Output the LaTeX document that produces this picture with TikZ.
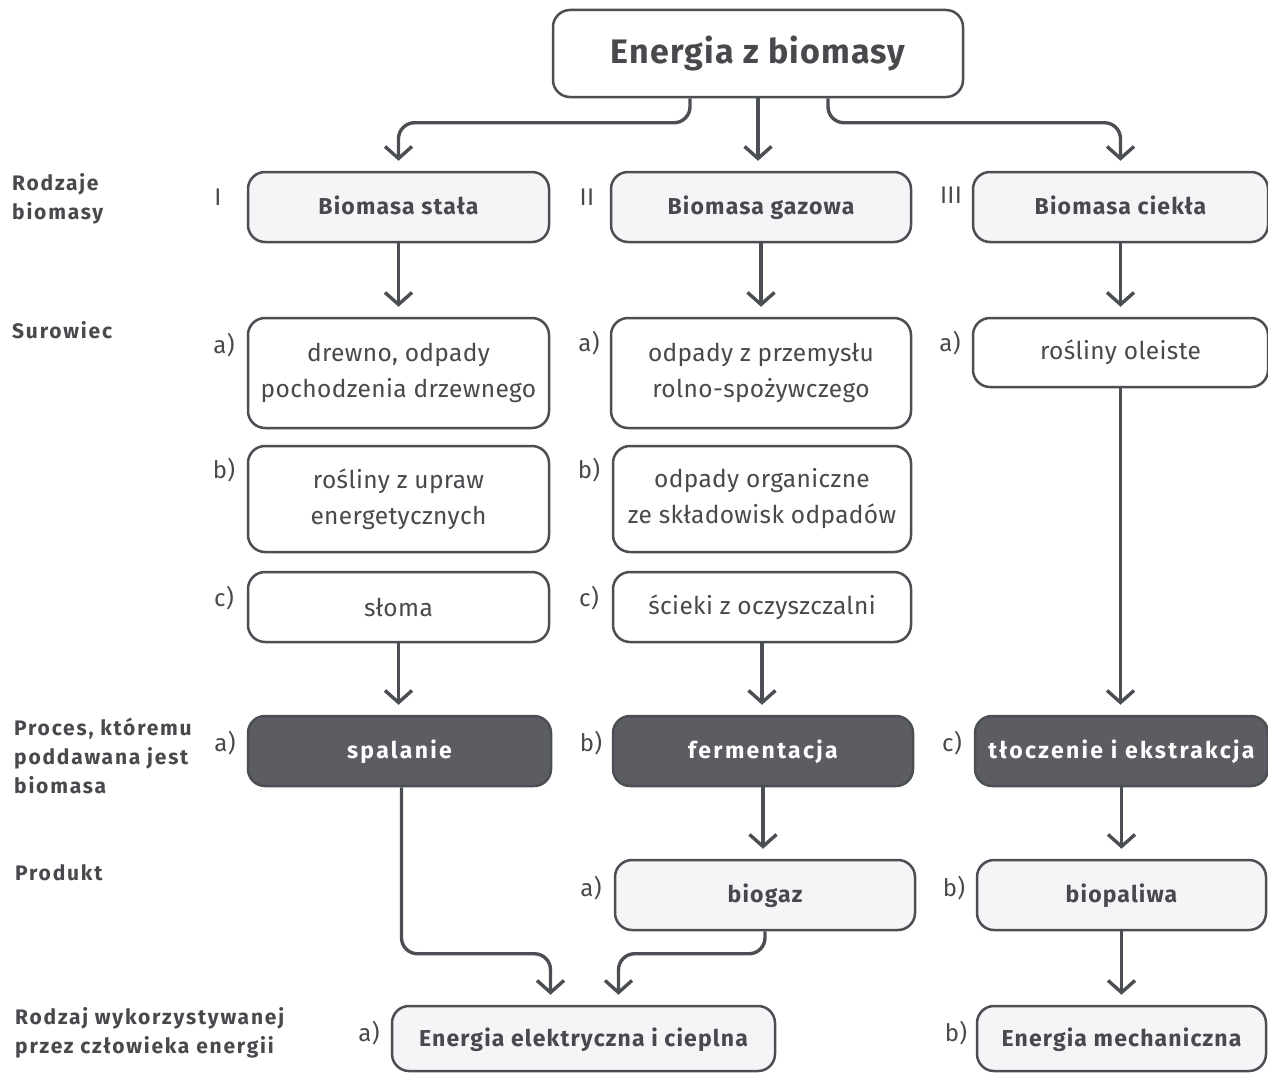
\documentclass[tikz,border=0pt]{standalone}
\usepackage{fontspec}
\setmainfont[LetterSpace=1.5]{Fira Sans}
\newfontfamily\headfont[LetterSpace=5]{Fira Sans}
\newfontfamily\labfont[LetterSpace=8.5]{Fira Sans}
\newfontfamily\procfont[LetterSpace=10]{Fira Sans}
\newfontfamily\titlefont[LetterSpace=3.5]{Fira Sans}
\usetikzlibrary{arrows.meta}
\definecolor{ink}{HTML}{4B4E53}
\definecolor{txt}{HTML}{48484D}
\definecolor{dark}{HTML}{5B5D62}
\definecolor{pale}{HTML}{F6F4F6}
\begin{document}
\begin{tikzpicture}[x=1pt,y=-1pt,
  box/.style={draw=ink, line width=2.5pt, rounded corners=17pt, fill=white,
    text=txt, align=center, inner sep=0pt,
    font=\fontsize{24.5}{36}\selectfont},
  head/.style={box, fill=pale, text height=19pt, text depth=4pt,
    font=\headfont\bfseries\fontsize{23}{26}\selectfont},
  proc/.style={box, fill=dark, text=white, text height=19pt, text depth=4pt,
    font=\procfont\bfseries\fontsize{23}{26}\selectfont},
  arr/.style={draw=ink, line width=3.4pt, shorten >=10pt,
    -{Straight Barb[length=12pt,width=27pt]}},
  link/.style={arr, rounded corners=16pt},
  lab/.style={text=txt, anchor=west, align=left, inner sep=0pt,
    font=\labfont\bfseries\fontsize{21}{29}\selectfont},
  tag/.style={text=txt, inner sep=0pt, font=\fontsize{24}{24}\selectfont}]
\useasboundingbox (0,0) rectangle (1268,1073);

% title
\node[box, minimum width=410pt, minimum height=87pt,
  font=\titlefont\bfseries\fontsize{34}{36}\selectfont] (top) at (758,53.5) {Energia z biomasy};

% kinds of biomass
\node[head, minimum width=301pt, minimum height=70pt] (t1) at (398.5,207) {Biomasa stała};
\node[head, minimum width=300pt, minimum height=70pt] (t2) at (761,207) {Biomasa gazowa};
\node[head, minimum width=295pt, minimum height=70pt] (t3) at (1120.5,207) {Biomasa ciekła};

% raw materials
\node[box, minimum width=301pt, minimum height=110pt] (s1a) at (398.5,373) {drewno, odpady\\pochodzenia drzewnego};
\node[box, minimum width=301pt, minimum height=106pt] (s1b) at (398.5,499) {rośliny z upraw\\energetycznych};
\node[box, minimum width=301pt, minimum height=70pt] (s1c) at (398.5,607) {słoma};
\node[box, minimum width=300pt, minimum height=110pt] (s2a) at (761,373) {odpady z przemysłu\\rolno-spożywczego};
\node[box, minimum width=298pt, minimum height=106pt] (s2b) at (762,499) {odpady organiczne\\ze składowisk odpadów};
\node[box, minimum width=298pt, minimum height=70pt] (s2c) at (762,607) {ścieki z oczyszczalni};
\node[box, minimum width=295pt, minimum height=69pt] (s3a) at (1120.5,352.5) {rośliny oleiste};

% processes
\node[proc, minimum width=303pt, minimum height=70pt] (p1) at (399.5,751) {spalanie};
\node[proc, minimum width=300pt, minimum height=70pt] (p2) at (763,751) {fermentacja};
\node[proc, minimum width=293pt, minimum height=70pt] (p3) at (1121.5,751) {tłoczenie i ekstrakcja};

% products
\node[head, minimum width=300pt, minimum height=70pt] (pr2) at (765,895) {biogaz};
\node[head, minimum width=289pt, minimum height=70pt] (pr3) at (1121.5,895) {biopaliwa};

% kinds of energy
\node[head, minimum width=383pt, minimum height=65pt] (e1) at (583.5,1038.5) {Energia elektryczna i cieplna};
\node[head, minimum width=289pt, minimum height=65pt] (e2) at (1121.5,1038.5) {Energia mechaniczna};

% row captions
\node[lab] (l1) at (12,199) {Rodzaje\\biomasy};
\node[lab] (l2) at (12,330) {Surowiec};
\node[lab] (l3) at (14,756) {Proces, któremu\\poddawana jest\\biomasa};
\node[lab] (l4) at (15,873) {Produkt};
\node[lab] (l5) at (15,1033) {Rodzaj wykorzystywanej\\przez człowieka energii};

% numerals and letters
\node[tag] (n1) at (218,197) {I};
\node[tag] (n2) at (587,197) {II};
\node[tag] (n3) at (951,195) {III};
\node[tag] (a1) at (224,345) {a)};
\node[tag] (b1) at (224,470) {b)};
\node[tag] (c1) at (224,598) {c)};
\node[tag] (d1) at (225,743) {a)};
\node[tag] (a2) at (589,343) {a)};
\node[tag] (b2) at (589,470) {b)};
\node[tag] (c2) at (589,598) {c)};
\node[tag] (d2) at (591,743) {b)};
\node[tag] (f2) at (591,888) {a)};
\node[tag] (a3) at (950,343) {a)};
\node[tag] (d3) at (952,743) {c)};
\node[tag] (f3) at (954,888) {b)};
\node[tag] (g1) at (369,1033) {a)};
\node[tag] (g3) at (956,1033) {b)};

% connectors
\draw[link] ([xshift=-68pt]top.south) |- ([yshift=48pt]t1.north) -- (t1.north);
\draw[arr] (top.south) -- (top.south |- t2.north);
\draw[link] ([xshift=70pt]top.south) |- ([yshift=48pt]t3.north) -- (t3.north);

\draw[arr] (t1.south) -- (s1a.north);
\draw[arr] (t2.south) -- (t2.south |- s2a.north);
\draw[arr] (t3.south) -- (s3a.north);

\draw[arr] (s1c.south) -- (s1c.south |- p1.north);
\draw[arr] (s2c.south) -- (s2c.south |- p2.north);
\draw[arr] (s3a.south) -- (s3a.south |- p3.north);

\draw[arr] (p2.south) -- (p2.south |- pr2.north);
\draw[arr] (p3.south) -- (pr3.north);

\draw[link] ([xshift=2pt]p1.south) |- ([xshift=-33pt,yshift=51pt]e1.north) -- ([xshift=-33pt]e1.north);
\draw[link] (pr2.south) |- ([xshift=35pt,yshift=51pt]e1.north) -- ([xshift=35pt]e1.north);
\draw[arr] (pr3.south) -- (e2.north);
\end{tikzpicture}
\end{document}
